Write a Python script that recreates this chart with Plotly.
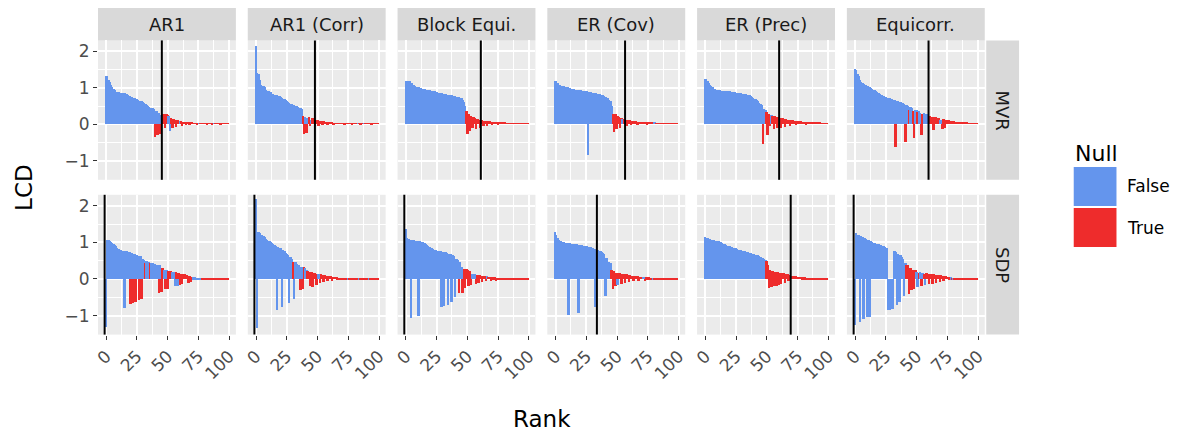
import plotly.graph_objects as go

W, H = 1192, 438
BLUE = "#6495ED"
RED = "#EE2C2C"
FONT = "DejaVu Sans"

panel_names = ["AR1", "AR1 (Corr)", "Block Equi.", "ER (Cov)", "ER (Prec)", "Equicorr."]
method_names = ["MVR", "SDP"]
ranks = list(range(100))
x_ticks = [0, 25, 50, 75, 100]
y_ticks = [-1, 0, 1, 2]
y_tick_labels = ["\u22121", "0", "1", "2"]

# threshold (black vertical line) per panel
mvr_thresholds = [45.2, 47.9, 61.0, 56.5, 60.0, 59.7]
sdp_thresholds = [-1.3, -1.3, -1.2, 33.6, 69.4, -1.2]

# ---- MVR row ----
mvr_ar1 = [1.32, 1.30, 1.20, 1.15, 1.08, 1.00, 0.95, 0.92, 0.88, 0.87,
           0.87, 0.86, 0.86, 0.85, 0.85, 0.84, 0.83, 0.82, 0.80, 0.77,
           0.74, 0.73, 0.72, 0.71, 0.69, 0.67, 0.65, 0.64, 0.63, 0.62,
           0.60, 0.58, 0.56, 0.52, 0.48, 0.46, 0.45, 0.44, 0.43, 0.42,
           -0.35, 0.36, -0.30, 0.30, -0.28, 0.25, 0.28, 0.27, -0.12, 0.26,
           0.24, 0.21, -0.20, 0.15, -0.10, 0.14, 0.12, -0.08, 0.11, 0.09,
           0.08, 0.07, -0.05, 0.06, 0.05, -0.04, 0.04, 0.04, -0.03, 0.03,
           0.03, 0.02, 0.02, 0.02, -0.01, 0.02, 0.01, 0.01, 0.01, 0.01,
           0.01, 0.01, -0.01, 0.01, 0.01, 0.01, -0.01, 0.01, 0.01, 0.01,
           0.01, 0.01, 0.01, -0.01, 0.01, 0.01, 0.01, 0.01, 0.01, 0.01]
mvr_ar1_null = [0, 0, 0, 0, 0, 0, 0, 0, 0, 0,
                0, 0, 0, 0, 0, 0, 0, 0, 0, 0,
                0, 0, 0, 0, 0, 0, 0, 0, 0, 0,
                0, 0, 0, 0, 0, 0, 0, 0, 0, 0,
                1, 0, 1, 0, 1, 0, 1, 1, 1, 1,
                1, 0, 0, 1, 1, 1, 1, 1, 1, 1,
                0, 1, 1, 1, 1, 1, 1, 1, 1, 1,
                1, 1, 1, 1, 1, 1, 0, 1, 1, 1,
                1, 1, 1, 1, 1, 1, 1, 1, 0, 1,
                1, 1, 1, 1, 1, 1, 1, 1, 1, 1]

mvr_ar1_corr = [2.14, 1.39, 1.36, 1.20, 1.07, 1.04, 1.03, 1.02, 0.92, 0.90,
                0.89, 0.88, 0.87, 0.82, 0.81, 0.80, 0.79, 0.78, 0.77, 0.76,
                0.74, 0.71, 0.69, 0.67, 0.65, 0.62, 0.60, 0.58, 0.56, 0.54,
                0.53, 0.51, 0.50, 0.48, 0.46, 0.44, 0.43, 0.41, 0.23, -0.27,
                0.20, -0.25, 0.16, 0.18, -0.05, 0.12, 0.15, 0.12, -0.05, 0.12,
                0.10, -0.06, 0.09, 0.08, -0.04, 0.07, 0.06, 0.05, -0.03, 0.04,
                0.04, 0.03, 0.03, -0.02, 0.02, 0.02, 0.02, 0.01, 0.01, 0.01,
                0.01, 0.01, -0.01, 0.01, 0.01, 0.01, 0.01, 0.01, -0.01, 0.01,
                0.01, 0.01, 0.01, 0.01, 0.01, -0.01, 0.01, 0.01, 0.01, 0.01,
                0.01, 0.01, 0.01, 0.01, -0.01, 0.01, 0.01, 0.01, 0.01, 0.01]
mvr_ar1_corr_null = [0, 0, 0, 0, 0, 0, 0, 0, 0, 0,
                     0, 0, 0, 0, 0, 0, 0, 0, 0, 0,
                     0, 0, 0, 0, 0, 0, 0, 0, 0, 0,
                     0, 0, 0, 0, 0, 0, 0, 0, 1, 1,
                     0, 1, 0, 1, 1, 0, 1, 1, 1, 1,
                     1, 1, 1, 1, 1, 1, 1, 1, 1, 1,
                     1, 1, 1, 1, 1, 1, 1, 1, 1, 1,
                     1, 1, 1, 1, 1, 1, 1, 1, 1, 1,
                     1, 1, 1, 0, 1, 1, 1, 1, 0, 1,
                     1, 1, 1, 1, 1, 1, 1, 1, 1, 1]

mvr_block = [1.19, 1.19, 1.18, 1.17, 1.13, 1.11, 1.08, 1.04, 1.02, 1.01,
             1.00, 0.99, 0.98, 0.97, 0.96, 0.95, 0.94, 0.93, 0.93, 0.92,
             0.91, 0.90, 0.89, 0.89, 0.88, 0.87, 0.86, 0.85, 0.85, 0.84,
             0.83, 0.82, 0.81, 0.80, 0.80, 0.79, 0.78, 0.78, 0.77, 0.77,
             0.76, 0.75, 0.75, 0.74, 0.72, 0.70, 0.66, 0.60, 0.48, 0.35,
             -0.28, 0.26, -0.20, 0.22, -0.12, 0.18, 0.16, -0.15, 0.14, 0.12,
             -0.10, 0.11, 0.10, -0.06, 0.09, 0.08, -0.05, 0.08, 0.07, 0.06,
             -0.04, 0.06, 0.05, 0.05, 0.04, -0.02, 0.04, 0.03, 0.03, 0.03,
             0.03, 0.02, 0.02, 0.02, 0.02, 0.02, 0.01, 0.02, 0.01, 0.01,
             0.01, 0.01, 0.01, 0.01, 0.01, 0.01, 0.01, 0.01, 0.01, 0.01]
mvr_block_null = [0, 0, 0, 0, 0, 0, 0, 0, 0, 0,
                  0, 0, 0, 0, 0, 0, 0, 0, 0, 0,
                  0, 0, 0, 0, 0, 0, 0, 0, 0, 0,
                  0, 0, 0, 0, 0, 0, 0, 0, 0, 0,
                  0, 0, 0, 0, 0, 0, 0, 0, 0, 1,
                  1, 1, 1, 1, 1, 1, 1, 1, 1, 1,
                  1, 1, 1, 1, 1, 1, 1, 1, 1, 1,
                  1, 1, 1, 1, 1, 1, 1, 1, 1, 1,
                  1, 1, 1, 1, 1, 1, 1, 1, 1, 1,
                  1, 1, 1, 1, 1, 1, 1, 1, 1, 1]

mvr_er_cov = [1.19, 1.17, 1.12, 1.08, 1.06, 1.05, 1.04, 1.03, 1.02, 1.01,
              1.00, 0.99, 0.98, 0.97, 0.96, 0.95, 0.94, 0.94, 0.93, 0.93,
              0.92, 0.92, 0.91, 0.91, 0.90, 0.90, 0.89, -0.86, 0.88, 0.87,
              0.86, 0.85, 0.85, 0.84, 0.83, 0.82, 0.81, 0.80, 0.79, 0.78,
              0.76, 0.74, 0.72, 0.70, 0.66, 0.62, 0.48, 0.28, -0.23, 0.26,
              -0.15, 0.22, 0.20, -0.10, 0.15, 0.14, 0.13, 0.12, -0.05, 0.11,
              0.10, 0.10, -0.04, 0.09, 0.08, 0.08, 0.07, -0.03, 0.06, 0.06,
              0.05, 0.05, 0.05, 0.04, 0.04, -0.02, 0.04, 0.03, 0.03, 0.03,
              0.03, 0.03, 0.02, 0.02, 0.02, 0.02, 0.02, 0.02, 0.02, 0.02,
              0.02, 0.01, 0.01, 0.01, 0.01, 0.01, 0.01, 0.01, 0.01, 0.01]
mvr_er_cov_null = [0, 0, 0, 0, 0, 0, 0, 0, 0, 0,
                   0, 0, 0, 0, 0, 0, 0, 0, 0, 0,
                   0, 0, 0, 0, 0, 0, 0, 0, 0, 0,
                   0, 0, 0, 0, 0, 0, 0, 0, 0, 0,
                   0, 0, 0, 0, 0, 0, 0, 1, 1, 1,
                   1, 1, 1, 1, 1, 0, 1, 1, 1, 1,
                   1, 1, 1, 1, 1, 1, 1, 1, 1, 1,
                   1, 1, 1, 1, 1, 1, 1, 1, 1, 1,
                   1, 0, 1, 1, 1, 1, 1, 1, 1, 1,
                   1, 1, 1, 1, 1, 1, 1, 1, 1, 1]

mvr_er_prec = [1.23, 1.22, 1.18, 1.12, 1.08, 1.04, 1.00, 0.97, 0.95, 0.94,
               0.93, 0.92, 0.92, 0.91, 0.91, 0.90, 0.90, 0.90, 0.89, 0.89,
               0.89, 0.88, 0.88, 0.88, 0.87, 0.86, 0.86, 0.85, 0.84, 0.84,
               0.83, 0.82, 0.82, 0.81, 0.80, 0.79, 0.78, 0.76, 0.74, 0.71,
               0.69, 0.67, 0.65, 0.62, 0.58, 0.55, 0.52, -0.54, 0.42, 0.39,
               0.32, -0.29, 0.28, -0.05, 0.25, 0.22, -0.15, 0.21, 0.20, -0.12,
               0.18, 0.16, -0.10, 0.15, 0.14, -0.08, 0.13, 0.12, 0.11, -0.05,
               0.10, 0.10, 0.09, 0.09, -0.04, 0.08, 0.08, 0.07, 0.07, 0.06,
               0.06, 0.06, -0.02, 0.05, 0.05, 0.05, 0.04, 0.04, 0.04, 0.03,
               0.03, 0.03, 0.03, 0.03, 0.02, 0.02, 0.02, 0.02, 0.02, 0.02]
mvr_er_prec_null = [0, 0, 0, 0, 0, 0, 0, 0, 0, 0,
                    0, 0, 0, 0, 0, 0, 0, 0, 0, 0,
                    0, 0, 0, 0, 0, 0, 0, 0, 0, 0,
                    0, 0, 0, 0, 0, 0, 0, 0, 0, 0,
                    0, 0, 0, 0, 0, 0, 0, 1, 0, 0,
                    1, 1, 1, 1, 0, 1, 1, 1, 1, 1,
                    1, 1, 1, 1, 1, 1, 1, 1, 1, 1,
                    1, 1, 1, 1, 1, 1, 1, 1, 1, 1,
                    1, 1, 1, 1, 1, 1, 1, 1, 1, 1,
                    1, 1, 1, 1, 1, 1, 1, 1, 1, 1]

mvr_equicorr = [1.50, 1.49, 1.38, 1.30, 1.20, 1.16, 1.12, 1.09, 1.07, 1.06,
                1.04, 1.02, 1.00, 0.98, 0.96, 0.94, 0.92, 0.89, 0.87, 0.84,
                0.82, 0.80, 0.78, 0.76, 0.75, 0.74, 0.72, 0.71, 0.70, 0.69,
                0.67, 0.66, 0.65, -0.63, 0.63, 0.62, 0.61, 0.60, 0.58, 0.57,
                0.55, -0.50, 0.52, 0.50, 0.39, 0.46, 0.44, 0.36, -0.38, 0.39,
                0.37, 0.33, 0.35, 0.31, -0.29, 0.28, 0.29, 0.27, 0.26, 0.25,
                0.22, 0.21, 0.20, 0.19, -0.17, 0.20, 0.18, 0.17, 0.16, 0.12,
                0.12, -0.14, 0.13, -0.12, 0.12, 0.11, 0.10, 0.09, 0.08, 0.08,
                0.07, 0.06, 0.06, 0.05, 0.05, 0.04, 0.04, 0.04, 0.03, 0.03,
                0.03, 0.03, 0.02, 0.02, 0.02, 0.02, 0.02, 0.02, 0.02, 0.02]
mvr_equicorr_null = [0, 0, 0, 0, 0, 0, 0, 0, 0, 0,
                     0, 0, 0, 0, 0, 0, 0, 0, 0, 0,
                     0, 0, 0, 0, 0, 0, 0, 0, 0, 0,
                     0, 0, 0, 1, 0, 0, 0, 0, 0, 0,
                     0, 1, 0, 0, 1, 0, 0, 1, 1, 0,
                     0, 1, 0, 0, 1, 1, 0, 0, 0, 0,
                     1, 1, 1, 1, 1, 1, 1, 1, 1, 0,
                     0, 1, 1, 1, 1, 1, 1, 1, 1, 1,
                     1, 1, 1, 1, 1, 1, 1, 1, 1, 1,
                     1, 1, 1, 1, 1, 1, 1, 1, 1, 1]

# ---- SDP row ----
sdp_ar1 = [-1.30, 1.08, 1.07, 1.05, 1.02, 1.00, 0.97, 0.93, 0.90, 0.86,
           0.82, 0.80, 0.79, 0.78, 0.77, -0.80, 0.76, 0.76, 0.75, 0.74,
           -0.68, 0.72, -0.66, 0.70, -0.62, 0.66, 0.64, -0.57, 0.62, -0.55,
           0.56, 0.52, 0.45, 0.50, 0.48, 0.46, 0.43, 0.44, 0.43, 0.42,
           0.41, 0.40, 0.39, -0.37, 0.38, -0.35, 0.30, 0.26, -0.28, 0.25,
           -0.26, 0.22, 0.22, 0.21, 0.20, 0.20, -0.19, 0.19, -0.18, 0.16,
           -0.16, 0.15, -0.14, 0.14, 0.13, 0.12, 0.11, -0.10, 0.09, -0.08,
           0.06, 0.05, 0.05, 0.04, 0.04, 0.03, 0.03, 0.02, 0.02, 0.02,
           0.01, 0.01, 0.01, 0.01, 0.01, 0.01, 0.01, 0.01, 0.01, 0.01,
           0.01, 0.01, 0.01, 0.01, 0.01, 0.01, 0.01, 0.01, 0.01, 0.01]
sdp_ar1_null = [0, 0, 0, 0, 0, 0, 0, 0, 0, 0,
                0, 0, 0, 0, 0, 0, 0, 0, 0, 0,
                1, 0, 1, 0, 1, 0, 0, 1, 0, 1,
                0, 0, 1, 0, 0, 0, 1, 0, 0, 0,
                0, 0, 0, 1, 0, 1, 1, 0, 1, 0,
                1, 1, 1, 1, 0, 0, 0, 1, 0, 1,
                1, 1, 1, 1, 1, 1, 1, 1, 1, 1,
                1, 0, 0, 0, 0, 0, 0, 0, 1, 1,
                1, 1, 1, 1, 1, 1, 1, 1, 1, 1,
                1, 1, 1, 1, 1, 1, 1, 1, 1, 1]

sdp_ar1_corr = [2.20, -1.33, 1.29, 1.25, 1.22, 1.20, 1.18, 1.14, 1.10, 1.07,
                1.05, 1.03, 1.02, 1.00, 0.96, 0.94, 0.92, -0.85, 0.88, 0.86,
                0.84, -0.77, 0.80, 0.76, 0.72, 0.70, 0.66, -0.65, 0.60, 0.56,
                0.47, -0.53, 0.46, 0.42, 0.40, 0.38, -0.30, 0.34, -0.28, 0.34,
                0.30, 0.25, 0.22, 0.20, -0.20, 0.20, -0.22, 0.18, 0.17, -0.15,
                0.15, 0.14, -0.10, 0.13, 0.12, -0.08, 0.11, 0.10, -0.06, 0.09,
                0.08, 0.08, -0.05, 0.07, 0.06, 0.06, 0.05, 0.04, 0.04, 0.03,
                0.03, 0.02, 0.02, 0.02, 0.02, 0.01, 0.01, 0.01, 0.01, 0.01,
                0.01, 0.01, 0.01, 0.01, 0.01, 0.01, 0.01, 0.01, 0.01, 0.01,
                0.01, 0.01, 0.01, 0.01, 0.01, 0.01, 0.01, 0.01, 0.01, 0.01]
sdp_ar1_corr_null = [0, 0, 0, 0, 0, 0, 0, 0, 0, 0,
                     0, 0, 0, 0, 0, 0, 0, 0, 0, 0,
                     0, 0, 0, 0, 0, 0, 0, 0, 0, 0,
                     1, 0, 0, 0, 0, 0, 1, 0, 1, 1,
                     0, 0, 1, 1, 1, 1, 1, 1, 1, 1,
                     1, 0, 1, 1, 1, 1, 1, 1, 1, 1,
                     1, 1, 1, 1, 1, 1, 1, 1, 1, 1,
                     1, 1, 1, 1, 1, 0, 1, 1, 1, 1,
                     1, 1, 1, 1, 0, 1, 1, 1, 1, 1,
                     1, 1, 0, 1, 1, 1, 1, 1, 1, 1]

sdp_block = [1.38, 1.12, 1.09, 1.08, -1.07, 1.07, 1.06, 1.05, 1.04, 1.03,
             -1.01, 1.03, 1.02, 1.02, 1.01, 1.00, 0.97, 0.94, 0.91, 0.88,
             0.86, 0.84, 0.82, 0.80, 0.79, 0.78, 0.77, 0.77, 0.76, -0.75,
             0.75, -0.74, 0.73, 0.72, -0.70, 0.70, 0.68, -0.62, 0.66, 0.62,
             -0.50, 0.56, 0.52, -0.39, 0.46, 0.34, -0.38, 0.29, -0.23, 0.27,
             0.25, -0.20, 0.22, -0.15, 0.15, 0.15, 0.14, -0.12, 0.12, -0.10,
             0.11, 0.10, -0.08, 0.10, 0.09, -0.06, 0.08, 0.07, 0.07, -0.04,
             0.06, 0.05, 0.05, -0.03, 0.04, 0.04, 0.03, 0.03, 0.03, 0.02,
             0.02, 0.02, 0.02, 0.02, 0.02, 0.02, 0.01, 0.01, 0.01, 0.01,
             0.01, 0.01, 0.01, 0.01, 0.01, 0.01, 0.01, 0.01, 0.01, 0.01]
sdp_block_null = [0, 0, 0, 0, 0, 0, 0, 0, 0, 0,
                  0, 0, 0, 0, 0, 0, 0, 0, 0, 0,
                  0, 0, 0, 0, 0, 0, 0, 0, 0, 0,
                  0, 0, 0, 0, 0, 0, 0, 0, 0, 0,
                  0, 0, 0, 1, 0, 0, 1, 1, 1, 1,
                  1, 1, 1, 1, 0, 0, 0, 1, 1, 1,
                  1, 1, 1, 1, 1, 1, 0, 1, 1, 1,
                  1, 1, 1, 1, 1, 1, 1, 1, 1, 1,
                  1, 1, 1, 1, 1, 1, 1, 1, 1, 1,
                  1, 1, 1, 1, 1, 1, 1, 1, 1, 1]

sdp_er_cov = [1.29, 1.20, 1.12, 1.08, 1.05, 1.03, 1.02, 1.01, 1.00, 0.99,
              0.99, -0.98, 0.98, 0.97, 0.97, 0.96, 0.96, 0.95, 0.95, -0.92,
              0.94, 0.93, 0.93, 0.92, 0.91, 0.91, 0.90, 0.89, 0.88, 0.87,
              0.86, 0.85, 0.83, -0.77, 0.81, 0.80, 0.78, 0.76, 0.74, 0.72,
              0.70, -0.46, 0.58, 0.47, 0.46, 0.45, 0.26, -0.28, 0.22, -0.20,
              0.18, -0.15, 0.17, 0.16, -0.12, 0.15, 0.14, -0.10, 0.13, 0.12,
              -0.08, 0.11, 0.10, 0.10, -0.06, 0.09, 0.08, 0.08, -0.05, 0.07,
              0.07, 0.06, 0.06, -0.04, 0.05, 0.05, 0.05, 0.04, 0.04, 0.04,
              0.04, 0.03, 0.03, 0.03, 0.03, 0.03, 0.03, 0.02, 0.02, 0.02,
              0.02, 0.02, 0.02, 0.02, 0.02, 0.01, 0.01, 0.01, 0.01, 0.01]
sdp_er_cov_null = [0, 0, 0, 0, 0, 0, 0, 0, 0, 0,
                   0, 0, 0, 0, 0, 0, 0, 0, 0, 0,
                   0, 0, 0, 0, 0, 0, 0, 0, 0, 0,
                   0, 0, 0, 0, 0, 0, 0, 0, 0, 0,
                   0, 0, 0, 0, 0, 0, 1, 1, 1, 1,
                   1, 0, 1, 1, 1, 1, 1, 1, 1, 1,
                   1, 1, 1, 1, 1, 1, 1, 1, 1, 1,
                   1, 1, 0, 1, 1, 1, 1, 1, 1, 1,
                   0, 1, 1, 1, 1, 1, 1, 1, 1, 1,
                   1, 1, 1, 1, 1, 1, 1, 1, 1, 1]

sdp_er_prec = [1.14, 1.13, 1.12, 1.10, 1.09, 1.08, 1.07, 1.06, 1.05, 1.04,
               1.03, 1.03, 1.02, 1.01, 0.99, 0.97, 0.95, 0.94, 0.92, 0.91,
               0.90, 0.89, 0.88, 0.86, 0.85, 0.84, 0.82, 0.81, 0.80, 0.79,
               0.78, 0.77, 0.76, 0.75, 0.74, 0.73, 0.72, 0.71, 0.70, 0.69,
               0.68, 0.67, 0.66, 0.65, 0.63, 0.61, 0.59, 0.57, 0.55, 0.52,
               0.50, 0.40, -0.25, 0.25, -0.22, 0.22, -0.20, 0.20, -0.18, 0.19,
               -0.16, 0.18, -0.14, 0.17, 0.16, -0.10, 0.15, 0.13, -0.05, 0.12,
               0.10, 0.09, 0.09, 0.08, 0.08, 0.07, 0.07, 0.06, 0.06, 0.05,
               0.05, 0.05, 0.04, 0.04, 0.04, 0.04, 0.03, 0.03, 0.03, 0.03,
               0.03, 0.03, 0.02, 0.02, 0.02, 0.02, 0.02, 0.02, 0.02, 0.02]
sdp_er_prec_null = [0, 0, 0, 0, 0, 0, 0, 0, 0, 0,
                    0, 0, 0, 0, 0, 0, 0, 0, 0, 0,
                    0, 0, 0, 0, 0, 0, 0, 0, 0, 0,
                    0, 0, 0, 0, 0, 0, 0, 0, 0, 0,
                    0, 0, 0, 0, 0, 0, 0, 0, 0, 0,
                    1, 1, 1, 1, 1, 1, 1, 1, 1, 1,
                    1, 1, 1, 1, 1, 1, 1, 1, 1, 1,
                    1, 1, 1, 1, 1, 1, 1, 1, 1, 1,
                    1, 1, 1, 1, 1, 1, 1, 1, 1, 1,
                    1, 1, 1, 1, 1, 1, 1, 1, 1, 1]

sdp_equicorr = [-1.25, 1.25, 1.22, 1.20, -1.16, 1.17, 1.15, -1.10, 1.12, 1.10,
                -1.03, 1.06, -1.02, 1.04, 1.02, 1.00, 0.98, 0.97, 0.96, 0.95,
                0.94, 0.93, 0.92, 0.90, 0.88, 0.86, 0.85, -0.83, -0.83, -0.82,
                -0.82, -0.81, 0.77, 0.75, -0.71, 0.70, -0.62, 0.66, 0.61, 0.55,
                -0.46, 0.43, 0.40, 0.38, -0.41, 0.30, -0.30, 0.26, -0.28, 0.25,
                0.20, -0.22, 0.18, 0.20, -0.18, 0.17, 0.15, -0.15, 0.16, 0.14,
                -0.14, 0.14, 0.13, -0.12, 0.13, 0.12, -0.10, 0.12, 0.11, -0.08,
                0.11, 0.10, -0.06, 0.10, 0.09, 0.07, 0.06, 0.05, 0.05, 0.04,
                0.04, 0.03, 0.03, 0.03, 0.02, 0.02, 0.02, 0.02, 0.02, 0.02,
                0.02, 0.01, 0.01, 0.01, 0.01, 0.01, 0.01, 0.01, 0.01, 0.01]
sdp_equicorr_null = [0, 0, 0, 0, 0, 0, 0, 0, 0, 0,
                     0, 0, 0, 0, 0, 0, 0, 0, 0, 0,
                     0, 0, 0, 0, 0, 0, 0, 0, 0, 0,
                     0, 0, 0, 0, 0, 0, 0, 0, 0, 0,
                     0, 0, 1, 1, 1, 1, 1, 1, 1, 1,
                     0, 0, 1, 0, 1, 0, 1, 0, 1, 1,
                     1, 1, 1, 1, 1, 1, 1, 1, 1, 1,
                     1, 1, 1, 1, 1, 1, 1, 1, 0, 1,
                     0, 1, 1, 1, 1, 1, 1, 1, 1, 1,
                     1, 1, 1, 1, 1, 1, 1, 1, 1, 1]

rows = [
    ([mvr_ar1, mvr_ar1_corr, mvr_block, mvr_er_cov, mvr_er_prec, mvr_equicorr],
     [mvr_ar1_null, mvr_ar1_corr_null, mvr_block_null, mvr_er_cov_null,
      mvr_er_prec_null, mvr_equicorr_null],
     mvr_thresholds),
    ([sdp_ar1, sdp_ar1_corr, sdp_block, sdp_er_cov, sdp_er_prec, sdp_equicorr],
     [sdp_ar1_null, sdp_ar1_corr_null, sdp_block_null, sdp_er_cov_null,
      sdp_er_prec_null, sdp_equicorr_null],
     sdp_thresholds),
]

# panel geometry in screen pixels (the page body adds an 8px margin)
PAGE_MARGIN = 8
PANEL_LEFT0 = 93.5
PANEL_STEP = 150.66
PANEL_W = 138.7
ROW_TOP = [40.4, 194.8]
ROW_BOT = [179.8, 334.6]
X_RANGE = [-6.7, 105.4]
Y_RANGE = [-1.52, 2.3]
BAR_WIDTH = 1.6
GRID = "white"
PANEL_BG = "#EBEBEB"
STRIP_BG = "#D9D9D9"

TICK_SIZE = 17
STRIP_SIZE = 18
TITLE_SIZE = 23
LEGEND_TITLE_SIZE = 22
LEGEND_TEXT_SIZE = 17


def px(x):
    return (x - PAGE_MARGIN) / W


def py(y):
    return 1 - (y - PAGE_MARGIN) / H


fig = go.Figure()
layout = {}
shapes = []
annotations = []

for r, (series, nulls, thresholds) in enumerate(rows):
    for c in range(6):
        idx = r * 6 + c + 1
        xa = "x" if idx == 1 else f"x{idx}"
        ya = "y" if idx == 1 else f"y{idx}"
        fig.add_trace(
            go.Bar(
                x=ranks,
                y=series[c],
                width=BAR_WIDTH,
                marker=dict(color=[RED if n else BLUE for n in nulls[c]], line=dict(width=0)),
                xaxis=xa,
                yaxis=ya,
                showlegend=False,
                hoverinfo="skip",
            )
        )
        shapes.append(dict(type="line", xref=xa, yref=f"{ya} domain",
                           x0=thresholds[c], x1=thresholds[c], y0=0, y1=1,
                           line=dict(color="black", width=2)))

        left = PANEL_LEFT0 + PANEL_STEP * c
        bottom_row = r == 1
        layout["xaxis" if idx == 1 else f"xaxis{idx}"] = dict(
            domain=[px(left), px(left + PANEL_W)],
            anchor=ya,
            range=X_RANGE,
            tickvals=x_ticks,
            showticklabels=bottom_row,
            ticks="outside" if bottom_row else "",
            ticklen=4, tickwidth=1.1, tickcolor="#333333",
            tickangle=-45,
            tickfont=dict(size=TICK_SIZE, color="#4D4D4D", family=FONT),
            showgrid=True, gridcolor=GRID, gridwidth=1.7,
            minor=dict(dtick=12.5, tick0=0, showgrid=True, gridcolor=GRID, gridwidth=0.8),
            zeroline=False, showline=False, fixedrange=True,
        )
        layout["yaxis" if idx == 1 else f"yaxis{idx}"] = dict(
            domain=[py(ROW_BOT[r]), py(ROW_TOP[r])],
            anchor=xa,
            range=Y_RANGE,
            tickvals=y_ticks,
            ticktext=y_tick_labels,
            showticklabels=c == 0,
            ticks="outside" if c == 0 else "",
            ticklen=4, tickwidth=1.1, tickcolor="#333333",
            tickfont=dict(size=TICK_SIZE, color="#4D4D4D", family=FONT),
            showgrid=True, gridcolor=GRID, gridwidth=1.7,
            minor=dict(dtick=0.5, tick0=0, showgrid=True, gridcolor=GRID, gridwidth=0.8),
            zeroline=False, showline=False, fixedrange=True,
        )

# top strips
for c, name in enumerate(panel_names):
    left = PANEL_LEFT0 + PANEL_STEP * c
    shapes.append(dict(type="rect", xref="paper", yref="paper", layer="below",
                       x0=px(left), x1=px(left + PANEL_W), y0=py(40.4), y1=py(7.5),
                       fillcolor=STRIP_BG, line=dict(width=0)))
    annotations.append(dict(text=name, xref="paper", yref="paper", showarrow=False,
                            x=px(left + PANEL_W / 2), y=py(24), xanchor="center", yanchor="middle",
                            font=dict(size=STRIP_SIZE, color="#1A1A1A", family=FONT)))

# right strips
STRIP_X0 = PANEL_LEFT0 + PANEL_STEP * 5 + PANEL_W + 1.5
for r, name in enumerate(method_names):
    shapes.append(dict(type="rect", xref="paper", yref="paper", layer="below",
                       x0=px(STRIP_X0), x1=px(STRIP_X0 + 33), y0=py(ROW_BOT[r]), y1=py(ROW_TOP[r]),
                       fillcolor=STRIP_BG, line=dict(width=0)))
    annotations.append(dict(text=name, xref="paper", yref="paper", showarrow=False,
                            x=px(STRIP_X0 + 16.5), y=py((ROW_TOP[r] + ROW_BOT[r]) / 2),
                            xanchor="center", yanchor="middle", textangle=90,
                            font=dict(size=STRIP_SIZE, color="#1A1A1A", family=FONT)))

# axis titles
annotations.append(dict(text="LCD", xref="paper", yref="paper", showarrow=False,
                        x=px(19), y=py(187), textangle=-90, xanchor="center", yanchor="middle",
                        font=dict(size=TITLE_SIZE, color="black", family=FONT)))
annotations.append(dict(text="Rank", xref="paper", yref="paper", showarrow=False,
                        x=px(540), y=py(419), xanchor="center", yanchor="middle",
                        font=dict(size=TITLE_SIZE, color="black", family=FONT)))

# legend drawn by hand
annotations.append(dict(text="Null", xref="paper", yref="paper", showarrow=False,
                        x=px(1074), y=py(153), xanchor="left", yanchor="middle",
                        font=dict(size=LEGEND_TITLE_SIZE, color="black", family=FONT)))
for i, (label, colour) in enumerate([("False", BLUE), ("True", RED)]):
    top = 167 + i * 41
    shapes.append(dict(type="rect", xref="paper", yref="paper",
                       x0=px(1075), x1=px(1118), y0=py(top + 39), y1=py(top),
                       fillcolor=colour, line=dict(width=0)))
    annotations.append(dict(text=label, xref="paper", yref="paper", showarrow=False,
                            x=px(1127), y=py(top + 19.5), xanchor="left", yanchor="middle",
                            font=dict(size=LEGEND_TEXT_SIZE, color="black", family=FONT)))

fig.update_layout(
    width=W, height=H,
    margin=dict(l=0, r=0, t=0, b=0),
    paper_bgcolor="white",
    plot_bgcolor=PANEL_BG,
    showlegend=False,
    bargap=0,
    shapes=shapes,
    annotations=annotations,
    font=dict(family=FONT),
    **layout,
)

fig.write_html("out.html")
